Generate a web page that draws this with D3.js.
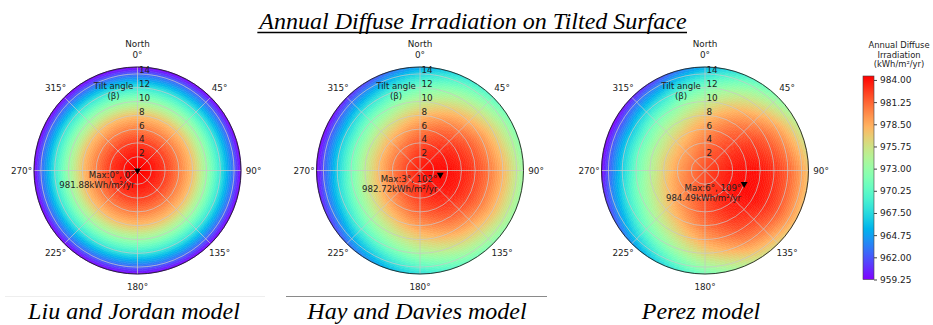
<!DOCTYPE html>
<html>
<head>
<meta charset="utf-8">
<script src="https://cdn.jsdelivr.net/npm/d3@7"></script>
<style>
  body { margin: 0; background: #fff; }
  svg text { font-family: "DejaVu Sans", sans-serif; fill: #222; }
  svg text.serif { font-family: "Liberation Serif", "Times New Roman", serif; font-style: italic; fill: #000; }
</style>
</head>
<body>
<div id="chart"></div>
<script>
// grid nodes (tilt rows x azimuth columns)
const tilts = [0, 2, 4, 6, 8, 10, 12, 14, 15];
const azimuths = [0, 30, 60, 90, 120, 150, 180, 210, 240, 270, 300, 330];

// Liu & Jordan is isotropic -> one value per tilt
const ljByTilt = [981.88, 981.48, 980.27, 978.26, 975.8, 971.9, 967.39, 962.16, 959.25];

const hdValues = [
  [981.88, 981.88, 981.88, 981.88, 981.88, 981.88, 981.88, 981.88, 981.88, 981.88, 981.88, 981.88],
  [981.44, 981.88, 982.24, 982.44, 982.42, 982.18, 981.79, 981.36, 980.99, 980.79, 980.82, 981.05],
  [980.48, 981.34, 982.07, 982.47, 982.42, 981.95, 981.17, 980.31, 979.58, 979.18, 979.23, 979.70],
  [978.98, 980.28, 981.38, 981.97, 981.90, 981.19, 980.03, 978.73, 977.63, 977.04, 977.11, 977.82],
  [976.96, 978.69, 980.15, 980.94, 980.85, 979.90, 978.36, 976.62, 975.16, 974.37, 974.46, 975.41],
  [974.41, 976.58, 978.40, 979.39, 979.27, 978.09, 976.15, 973.98, 972.16, 971.17, 971.29, 972.47],
  [971.33, 973.93, 976.12, 977.31, 977.17, 975.75, 973.42, 970.82, 968.63, 967.45, 967.58, 969.00],
  [967.72, 970.76, 973.31, 974.70, 974.54, 972.88, 970.17, 967.13, 964.58, 963.19, 963.35, 965.01],
  [965.72, 968.98, 971.71, 973.19, 973.02, 971.25, 968.34, 965.08, 962.35, 960.87, 961.04, 962.82]
];

const perezValues = [
  [981.88, 981.88, 981.88, 981.88, 981.88, 981.88, 981.88, 981.88, 981.88, 981.88, 981.88, 981.88],
  [981.38, 982.04, 982.63, 983.00, 983.05, 982.76, 982.21, 981.55, 980.95, 980.58, 980.54, 980.83],
  [980.55, 981.87, 983.06, 983.81, 983.90, 983.32, 982.22, 980.90, 979.71, 978.96, 978.87, 979.45],
  [979.26, 981.25, 983.03, 984.15, 984.28, 983.41, 981.77, 979.78, 977.99, 976.88, 976.74, 977.61],
  [977.41, 980.05, 982.43, 983.92, 984.10, 982.94, 980.74, 978.10, 975.72, 974.23, 974.05, 975.21],
  [974.89, 978.20, 981.18, 983.03, 983.26, 981.81, 979.06, 975.76, 972.78, 970.92, 970.69, 972.15],
  [971.64, 975.62, 979.19, 981.41, 981.69, 979.95, 976.65, 972.68, 969.11, 966.88, 966.61, 968.35],
  [967.59, 972.22, 976.39, 978.99, 979.31, 977.28, 973.43, 968.80, 964.64, 962.04, 961.71, 963.75],
  [965.24, 970.21, 974.67, 977.46, 977.80, 975.62, 971.50, 966.54, 962.08, 959.29, 959.25, 961.13]
];

const models = ["Liu and Jordan model", "Hay and Davies model", "Perez model"];
const maxTilt = [0, 3, 6];
const maxAzimuth = [0, 102, 109];
const maxValue = [981.88, 982.72, 984.49];

const colorTicks = [959.25, 962.00, 964.75, 967.50, 970.25, 973.00, 975.75, 978.50, 981.25, 984.00];
const angleTicks = [0, 45, 90, 135, 180, 225, 270, 315];
const tiltTicks = [2, 4, 6, 8, 10, 12, 14];

const ljValues = tilts.map((t, i) => azimuths.map(() => ljByTilt[i]));
const grids = [ljValues, hdValues, perezValues];

// ---- layout
const W = 933, H = 325;
const centers = [137.5, 420, 705];
const captionX = [134, 417, 701];
const cy = 170.5, R = 103.5;
const vmin = 959.25, vmax = 984.49;

const svg = d3.select("#chart").append("svg").attr("width", W).attr("height", H);

// matplotlib "rainbow" colormap
const rainbow = t => d3.rgb(
  255 * Math.min(1, Math.abs(2 * t - 0.5)),
  255 * Math.max(0, Math.sin(Math.PI * t)),
  255 * Math.max(0, Math.cos(Math.PI * t / 2))
).toString();
const r = d3.scaleLinear().domain([0, 15]).range([0, R]);
const rad = d => d * Math.PI / 180;
const arc = d3.arc();

// smooth shading between the read grid nodes (like gouraud shading)
function sample(grid, t, a) {
  let i = d3.bisectRight(tilts, t) - 1;
  i = Math.max(0, Math.min(tilts.length - 2, i));
  const ft = (t - tilts[i]) / (tilts[i + 1] - tilts[i]);
  const step = 360 / azimuths.length;
  const j = Math.floor(a / step) % azimuths.length;
  const j2 = (j + 1) % azimuths.length;
  const fa = (a - azimuths[j]) / step;
  const v0 = grid[i][j] * (1 - fa) + grid[i][j2] * fa;
  const v1 = grid[i + 1][j] * (1 - fa) + grid[i + 1][j2] * fa;
  return v0 * (1 - ft) + v1 * ft;
}

grids.forEach((grid, k) => {
  const g = svg.append("g").attr("transform", `translate(${centers[k]},${cy})`);
  // each map is coloured over its own min..max
  const color = d3.scaleSequential(rainbow)
    .domain([d3.min(grid.flat()), maxValue[k]]).clamp(true);

  const dt = 0.25, da = 3;
  const cells = [];
  for (let t = 0; t < 15 - 1e-9; t += dt)
    for (let a = 0; a < 360; a += da)
      cells.push({ t, a, v: sample(grid, t + dt / 2, a + da / 2) });

  g.selectAll("path.cell").data(cells).join("path")
    .attr("class", "cell")
    .attr("d", d => arc({ innerRadius: r(d.t), outerRadius: r(d.t + dt), startAngle: rad(d.a), endAngle: rad(d.a + da) }))
    .attr("fill", d => color(d.v))
    .attr("stroke", d => color(d.v))
    .attr("stroke-width", 0.5);

  // grid
  g.selectAll("circle.grid").data(tiltTicks).join("circle")
    .attr("r", d => r(d)).attr("fill", "none")
    .attr("stroke", "#c8c8c8").attr("stroke-opacity", 0.9).attr("stroke-width", 0.8);
  g.selectAll("line.grid").data(angleTicks).join("line")
    .attr("x1", 0).attr("y1", 0)
    .attr("x2", d => R * Math.sin(rad(d))).attr("y2", d => -R * Math.cos(rad(d)))
    .attr("stroke", "#c8c8c8").attr("stroke-opacity", 0.9).attr("stroke-width", 0.8);
  g.append("circle").attr("r", R).attr("fill", "none").attr("stroke", "#222").attr("stroke-width", 0.9);

  // tilt labels
  g.selectAll("text.rl").data(tiltTicks).join("text")
    .attr("x", 1.5).attr("y", d => -r(d) - 3.5)
    .attr("dominant-baseline", "central").attr("font-size", 8.8)
    .text(d => d);
  g.append("text").attr("x", -24).attr("y", -84.5).attr("text-anchor", "middle")
    .attr("dominant-baseline", "central").attr("font-size", 8.6).text("Tilt angle");
  g.append("text").attr("x", -24).attr("y", -74.5).attr("text-anchor", "middle")
    .attr("dominant-baseline", "central").attr("font-size", 8.6).text("(β)");

  // azimuth labels
  const ra = 116;
  g.selectAll("text.al").data(angleTicks).join("text")
    .attr("x", d => ra * Math.sin(rad(d))).attr("y", d => -ra * Math.cos(rad(d)))
    .attr("text-anchor", "middle").attr("dominant-baseline", "central")
    .attr("font-size", 8.8).attr("fill", "#333")
    .text(d => d + "°");
  g.append("text").attr("x", 0).attr("y", -ra - 10.5)
    .attr("text-anchor", "middle").attr("dominant-baseline", "central")
    .attr("font-size", 8.8).attr("fill", "#333").text("North");

  // max marker
  const mx = r(maxTilt[k]) * Math.sin(rad(maxAzimuth[k]));
  const my = -r(maxTilt[k]) * Math.cos(rad(maxAzimuth[k]));
  g.append("path")
    .attr("d", d3.symbol(d3.symbolTriangle, 20))
    .attr("transform", `translate(${mx},${my}) rotate(180)`)
    .attr("fill", "#000");
  g.append("text").attr("x", mx - 3).attr("y", my + 4.5)
    .attr("text-anchor", "end").attr("dominant-baseline", "central").attr("font-size", 8.6)
    .text(`Max:${maxTilt[k]}°, ${maxAzimuth[k]}°`);
  g.append("text").attr("x", mx - 3).attr("y", my + 14.5)
    .attr("text-anchor", "end").attr("dominant-baseline", "central").attr("font-size", 8.6)
    .text(`${maxValue[k].toFixed(2)}kWh/m²/yr`);

  svg.append("text").attr("class", "serif")
    .attr("x", captionX[k]).attr("y", 319).attr("text-anchor", "middle")
    .attr("font-size", 24).text(models[k]);
});

// thin rules above the captions
svg.append("line").attr("x1", 5).attr("x2", 265).attr("y1", 296.5).attr("y2", 296.5)
  .attr("stroke", "#eee").attr("stroke-width", 1);
svg.append("line").attr("x1", 286).attr("x2", 547).attr("y1", 296.5).attr("y2", 296.5)
  .attr("stroke", "#8a8a8a").attr("stroke-width", 1);

// title
const title = svg.append("text").attr("class", "serif")
  .attr("x", 473).attr("y", 29).attr("text-anchor", "middle")
  .attr("font-size", 24).text("Annual Diffuse Irradiation on Tilted Surface");
const tb = title.node().getBBox();
svg.append("line").attr("x1", tb.x).attr("x2", tb.x + tb.width)
  .attr("y1", 32.5).attr("y2", 32.5).attr("stroke", "#000").attr("stroke-width", 1.3);

// colorbar
const cbX = 863, cbW = 11;
const cScale = d3.scaleLinear().domain([vmin, vmax]).range([279.5, 76]);
const grad = svg.append("defs").append("linearGradient").attr("id", "cbgrad")
  .attr("x1", 0).attr("y1", 1).attr("x2", 0).attr("y2", 0);
grad.selectAll("stop").data(d3.range(0, 1.0001, 0.05)).join("stop")
  .attr("offset", d => d).attr("stop-color", d => rainbow(d));
svg.append("rect").attr("x", cbX).attr("y", cScale(vmax)).attr("width", cbW)
  .attr("height", cScale(vmin) - cScale(vmax)).attr("fill", "url(#cbgrad)")
  .attr("stroke", "#444").attr("stroke-width", 0.6);
const cAxis = svg.append("g").attr("transform", `translate(${cbX + cbW},0)`)
  .call(d3.axisRight(cScale).tickValues(colorTicks).tickFormat(d3.format(".2f")).tickSize(3).tickPadding(3));
cAxis.select(".domain").remove();
cAxis.selectAll("line").attr("stroke", "#444");
cAxis.selectAll("text").attr("font-size", 9).attr("fill", "#333")
  .attr("font-family", "DejaVu Sans, sans-serif");

svg.selectAll("text.cbt").data(["Annual Diffuse", "Irradiation", "(kWh/m²/yr)"]).join("text")
  .attr("x", 899).attr("y", (d, i) => 45 + i * 9.7)
  .attr("text-anchor", "middle").attr("dominant-baseline", "central")
  .attr("font-size", 8.4).attr("fill", "#333").text(d => d);
</script>
</body>
</html>
